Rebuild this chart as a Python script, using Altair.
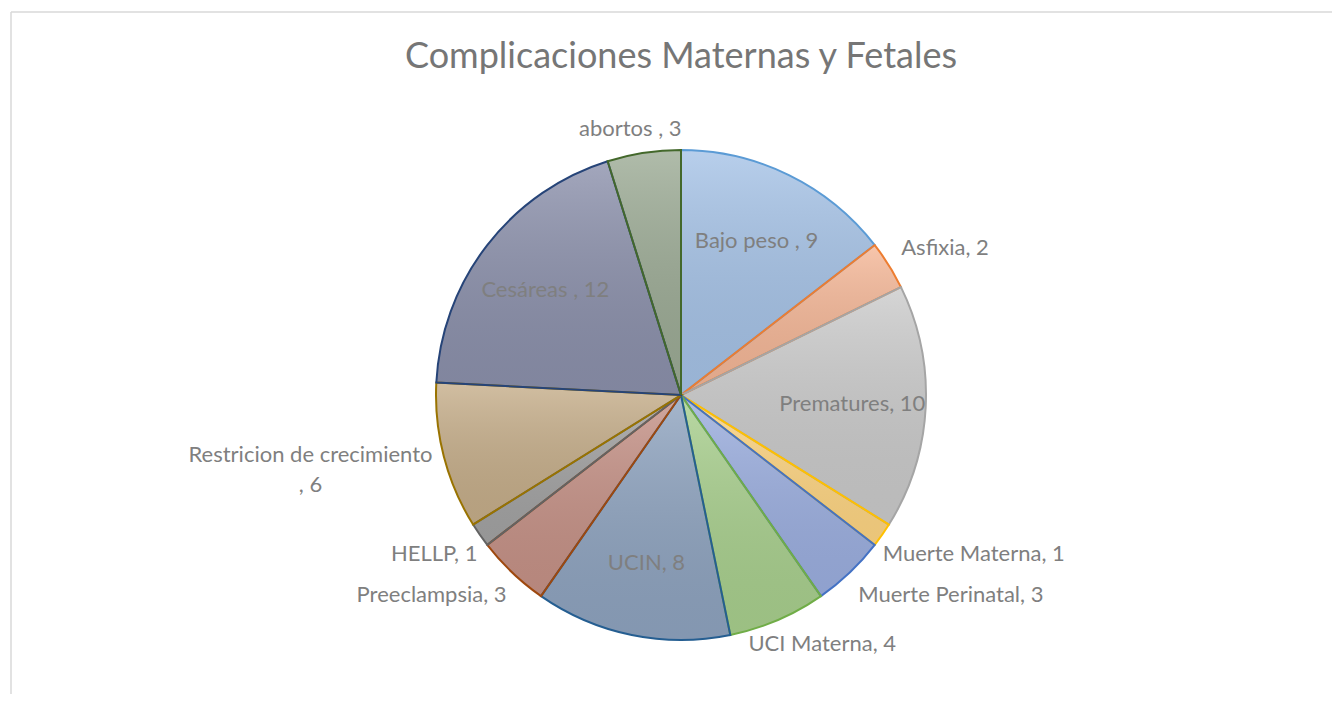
import altair as alt
import pandas as pd

title_text = "Complicaciones Maternas y Fetales"
categories = ["Bajo peso ", "Asfixia", "Prematures", "Muerte Materna", "Muerte Perinatal",
              "UCI Materna", "UCIN", "Preeclampsia", "HELLP", "Restricion de crecimiento ",
              "Cesáreas ", "abortos "]
values = [9, 2, 10, 1, 3, 4, 8, 3, 1, 6, 12, 3]
fill_colors = ["#A6C3E7", "#F5B797", "#CBCBCB", "#FFD683", "#9CAFE0", "#A9D08E",
               "#8FA4C0", "#C69287", "#A3A3A3", "#C6AE8A", "#8C91AC", "#9CAB95"]
stroke_colors = ["#5B9BD5", "#ED7D31", "#A5A5A5", "#FFC000", "#4472C4", "#70AD47",
                 "#255E91", "#9E480E", "#636363", "#997300", "#264478", "#43682B"]

R = 245
CX, CY = 673, 387
FONT = "Lato"
FS = 22
CHAR_W = 10.2
LINE_H = 30
GAP = 6
R_IN = R * 0.7

labels = []
for c, v in zip(categories, values):
    if len(c) > 20:
        labels.append(c.strip() + "\n, " + str(v))
    else:
        labels.append(c + ", " + str(v))

df = pd.DataFrame({
    "cat": categories,
    "value": values,
    "order": list(range(len(categories))),
    "label": labels,
    "maxchars": [max(len(s) for s in l.split("\n")) for l in labels],
    "nlines": [len(l.split("\n")) for l in labels],
})

base = (
    alt.Chart(df)
    .transform_window(cum="sum(value)", sort=[alt.SortField("order")], frame=[None, 0])
    .transform_joinaggregate(total="sum(value)")
    .transform_calculate(
        t0="(datum.cum - datum.value) / datum.total * 2 * PI",
        t1="datum.cum / datum.total * 2 * PI",
    )
    .transform_calculate(
        tm="(datum.t0 + datum.t1) / 2",
        hw=f"datum.maxchars * {CHAR_W} / 2",
        hh=f"18 + (datum.nlines - 1) * {LINE_H} / 2",
        shift=f"(datum.nlines - 1) * {LINE_H} / 2",
    )
    .transform_calculate(
        px=f"datum.value >= 8 ? {R_IN} * sin(datum.tm) : {R + GAP} * sin(datum.tm) + datum.hw * clamp(1.5 * sin(datum.tm), -1, 1)",
        py=f"datum.value >= 8 ? -{R_IN} * cos(datum.tm) : -{R + GAP} * cos(datum.tm) + datum.hh * clamp(-1.5 * cos(datum.tm), -1, 1) - datum.shift",
    )
    .transform_calculate(
        lt="atan2(datum.px, -datum.py)",
        lr="sqrt(datum.px * datum.px + datum.py * datum.py)",
    )
)

gradient = {
    "gradient": "linear", "x1": 0, "y1": 0, "x2": 0, "y2": 1,
    "stops": [
        {"offset": 0, "color": "rgba(255,255,255,0.20)"},
        {"offset": 1, "color": "rgba(0,0,0,0.08)"},
    ],
}

arcs = base.mark_arc(radius=R, strokeWidth=0).encode(
    x=alt.value(CX), y=alt.value(CY),
    theta=alt.Theta("t0:Q", scale=None),
    theta2="t1:Q",
    color=alt.Color("cat:N", scale=alt.Scale(domain=categories, range=fill_colors), legend=None),
)

overlay = base.mark_arc(radius=R, fill=gradient, strokeWidth=2, strokeJoin="miter").encode(
    x=alt.value(CX), y=alt.value(CY),
    theta=alt.Theta("t0:Q", scale=None),
    theta2="t1:Q",
    stroke=alt.Stroke("cat:N", scale=alt.Scale(domain=categories, range=stroke_colors), legend=None),
)

texts = base.mark_text(font=FONT, fontSize=FS, color="#7F7F7F", align="center",
                       baseline="middle", lineBreak="\n", lineHeight=LINE_H).encode(
    x=alt.value(CX), y=alt.value(CY),
    theta=alt.Theta("lt:Q", scale=None),
    radius=alt.Radius("lr:Q", scale=None),
    text="label:N",
)

title = alt.Chart(pd.DataFrame({"t": [title_text]})).mark_text(
    font=FONT, fontSize=36, color="#767676", align="center", baseline="middle"
).encode(x=alt.value(CX), y=alt.value(49), text="t:N")

one = pd.DataFrame({"a": [0]})
frame_top = alt.Chart(one).mark_rule(color="#D9D9D9", strokeWidth=1.5).encode(
    x=alt.value(3), x2=alt.value(1332), y=alt.value(4))
frame_left = alt.Chart(one).mark_rule(color="#D9D9D9", strokeWidth=1.5).encode(
    x=alt.value(3), y=alt.value(4), y2=alt.value(694))

chart = alt.layer(frame_top, frame_left, arcs, overlay, texts, title).properties(
    width=1324, height=686, padding=0, autosize="none"
).configure_view(stroke=None)

chart.save("out.html", embed_options={"renderer": "svg", "actions": False})
